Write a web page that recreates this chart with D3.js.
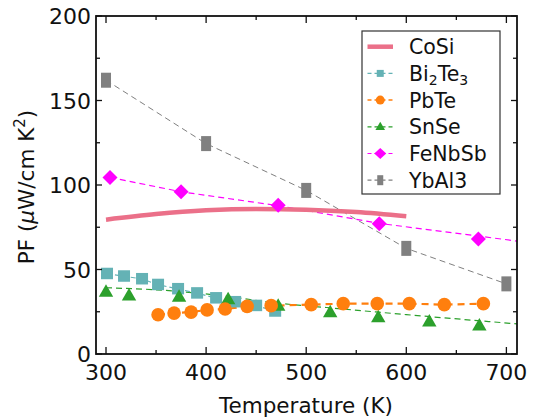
<!DOCTYPE html>
<html>
<head>
<meta charset="utf-8">
<script src="https://cdn.jsdelivr.net/npm/d3@7.9.0/dist/d3.min.js"></script>
<style>
  body { margin: 0; background: #fff; }
  svg text { font-family: "DejaVu Sans", sans-serif; fill: #111; }
</style>
</head>
<body>
<svg id="chart" width="535" height="417"></svg>
<script>
// values
const xTicks = [300, 400, 500, 600, 700];
const yTicks = [0, 50, 100, 150, 200];

const coSi = [[300, 79.5], [350, 82.8], [400, 85], [450, 85.8], [500, 85.4], [550, 84], [600, 81.5]];

const bi2Te3 = [[301, 47.5], [318, 46], [336, 44.4], [352, 41], [372, 38.5], [391, 36], [410, 33.1], [429, 30.8], [450, 28.6], [469, 25.3]];

const pbTe = [[352, 23.2], [368, 24.2], [385, 24.8], [401, 26.1], [419, 26.6], [441, 28.2], [465, 28.6], [505, 29.2], [537, 29.8], [571, 29.8], [603, 29.8], [638, 29.2], [677, 29.8]];

const snSe = [[300, 37], [323, 34.7], [373, 34], [422, 32.5], [472, 28.6], [524, 24.8], [572, 21.9], [623, 19.3], [673, 17]];
const snSeTrend = [[300, 39.2], [360, 37.6], [420, 34.2], [470, 30.2], [520, 27.5], [600, 23.3], [711, 17.8]];

const feNbSb = [[304, 104.5], [375, 96], [472, 88], [573, 77], [672, 68]];
const feNbSbTrend = [[304, 104.5], [375, 96], [474, 87.6], [573, 77.3], [711, 66.8]];

const ybAl3 = [[300, 162], [400, 124.5], [500, 96.8], [600, 62.5], [700, 41.5]];

const legendNames = ["CoSi", "Bi2Te3", "PbTe", "SnSe", "FeNbSb", "YbAl3"];

const svg = d3.select("#chart");
const margin = { left: 96, right: 18, top: 16, bottom: 63 };
const W = 535, H = 417;

const x = d3.scaleLinear().domain([290, 710.6]).range([margin.left, W - margin.right]);
const y = d3.scaleLinear().domain([0, 200]).range([H - margin.bottom, margin.top]);

svg.append("defs").append("clipPath").attr("id", "clip")
  .append("rect")
  .attr("x", x.range()[0]).attr("y", y.range()[1])
  .attr("width", x.range()[1] - x.range()[0])
  .attr("height", y.range()[0] - y.range()[1]);

const plot = svg.append("g").attr("clip-path", "url(#clip)");

const line = d3.line().x((d) => x(d[0])).y((d) => y(d[1]));

// dashed connectors / trend lines
plot.append("path").datum(ybAl3).attr("d", line)
  .attr("fill", "none").attr("stroke", "#808080").attr("stroke-width", 1).attr("stroke-dasharray", "6,4");
plot.append("path").datum(feNbSbTrend).attr("d", line)
  .attr("fill", "none").attr("stroke", "#ff00ff").attr("stroke-width", 1.2).attr("stroke-dasharray", "6,4");
plot.append("path").datum(snSeTrend).attr("d", line.curve(d3.curveMonotoneX))
  .attr("fill", "none").attr("stroke", "#2ca02c").attr("stroke-width", 1.2).attr("stroke-dasharray", "6,4");
line.curve(d3.curveLinear);
plot.append("path").datum(bi2Te3).attr("d", line)
  .attr("fill", "none").attr("stroke", "#64b2b5").attr("stroke-width", 1.2).attr("stroke-dasharray", "5,3");
plot.append("path").datum(pbTe).attr("d", line)
  .attr("fill", "none").attr("stroke", "#ff7f0e").attr("stroke-width", 2.2).attr("stroke-dasharray", "7,5");

// CoSi thick line
plot.append("path").datum(coSi).attr("d", d3.line().x((d) => x(d[0])).y((d) => y(d[1])).curve(d3.curveMonotoneX))
  .attr("fill", "none").attr("stroke", "#eb7089").attr("stroke-width", 4.5);

// markers
const sym = (type, size) => d3.symbol().type(type).size(size)();

plot.selectAll(".bi").data(bi2Te3).join("rect")
  .attr("x", (d) => x(d[0]) - 6).attr("y", (d) => y(d[1]) - 6)
  .attr("width", 12).attr("height", 11.5).attr("fill", "#64b2b5");

plot.selectAll(".sn").data(snSe).join("path")
  .attr("d", sym(d3.symbolTriangle, 90))
  .attr("transform", (d) => `translate(${x(d[0])},${y(d[1]) + 1})`)
  .attr("fill", "#2ca02c");

plot.selectAll(".pb").data(pbTe).join("circle")
  .attr("cx", (d) => x(d[0])).attr("cy", (d) => y(d[1]))
  .attr("r", 6.8).attr("fill", "#ff7f0e");

plot.selectAll(".fe").data(feNbSb).join("path")
  .attr("d", "M0,-7.5L7.5,0L0,7.5L-7.5,0Z")
  .attr("transform", (d) => `translate(${x(d[0])},${y(d[1])})`)
  .attr("fill", "#ff00ff");

plot.selectAll(".yb").data(ybAl3).join("rect")
  .attr("x", (d) => x(d[0]) - 5).attr("y", (d) => y(d[1]) - 7.5)
  .attr("width", 10).attr("height", 15).attr("fill", "#808080");

// frame & ticks
const x0 = x.range()[0], x1 = x.range()[1], y0 = y.range()[0], y1 = y.range()[1];
const frame = svg.append("g").attr("stroke", "#111").attr("stroke-width", 1.8);
frame.append("rect").attr("x", x0).attr("y", y1).attr("width", x1 - x0).attr("height", y0 - y1)
  .attr("fill", "none");

const xMinor = d3.range(350, 701, 100);
const yMinor = d3.range(25, 200, 50);
const tickG = svg.append("g").attr("stroke", "#111").attr("stroke-width", 1.3);
xTicks.forEach((t) => {
  tickG.append("line").attr("x1", x(t)).attr("x2", x(t)).attr("y1", y0).attr("y2", y0 - 7);
  tickG.append("line").attr("x1", x(t)).attr("x2", x(t)).attr("y1", y1).attr("y2", y1 + 7);
});
xMinor.forEach((t) => {
  tickG.append("line").attr("x1", x(t)).attr("x2", x(t)).attr("y1", y0).attr("y2", y0 - 4);
  tickG.append("line").attr("x1", x(t)).attr("x2", x(t)).attr("y1", y1).attr("y2", y1 + 4);
});
yTicks.forEach((t) => {
  tickG.append("line").attr("y1", y(t)).attr("y2", y(t)).attr("x1", x0).attr("x2", x0 + 6);
  tickG.append("line").attr("y1", y(t)).attr("y2", y(t)).attr("x1", x1).attr("x2", x1 - 6);
});
yMinor.forEach((t) => {
  tickG.append("line").attr("y1", y(t)).attr("y2", y(t)).attr("x1", x0).attr("x2", x0 + 4);
  tickG.append("line").attr("y1", y(t)).attr("y2", y(t)).attr("x1", x1).attr("x2", x1 - 4);
});

// tick labels
svg.selectAll(".xl").data(xTicks).join("text")
  .attr("x", (d) => x(d)).attr("y", 380)
  .attr("text-anchor", "middle").attr("font-size", 22).text((d) => d);
svg.selectAll(".yl").data(yTicks).join("text")
  .attr("x", x0 - 5).attr("y", (d) => y(d) + 8)
  .attr("text-anchor", "end").attr("font-size", 22).text((d) => d);

// axis titles
svg.append("text").attr("x", 306).attr("y", 413)
  .attr("text-anchor", "middle").attr("font-size", 21.5).text("Temperature (K)");

const yt = svg.append("text")
  .attr("transform", "translate(34,187) rotate(-90)")
  .attr("text-anchor", "middle").attr("font-size", 21.5);
yt.append("tspan").text("PF (");
yt.append("tspan").attr("font-style", "italic").text("μ");
yt.append("tspan").text("W/cm K");
yt.append("tspan").attr("font-size", 15).attr("dy", -9).text("2");
yt.append("tspan").attr("dy", 9).text(")");

// legend
const lg = svg.append("g");
lg.append("rect").attr("x", 362).attr("y", 31).attr("width", 138).attr("height", 163)
  .attr("fill", "#fff").attr("stroke", "#333").attr("stroke-width", 1.2);

const rowY = (i) => 46.7 + i * 26.7;
const lx0 = 367.5, lx1 = 393, lxm = (lx0 + lx1) / 2;

const legendStyles = [
  { color: "#eb7089", width: 4.5, dash: null },
  { color: "#64b2b5", width: 1.2, dash: "4,3" },
  { color: "#ff7f0e", width: 1.5, dash: "4,3" },
  { color: "#2ca02c", width: 1.2, dash: "4,3" },
  { color: "#ff00ff", width: 1.2, dash: "4,3" },
  { color: "#808080", width: 1.2, dash: "4,3" },
];

legendNames.forEach((name, i) => {
  const st = legendStyles[i];
  const ly = rowY(i);
  const l = lg.append("line").attr("x1", lx0).attr("x2", lx1).attr("y1", ly).attr("y2", ly)
    .attr("stroke", st.color).attr("stroke-width", st.width);
  if (st.dash) l.attr("stroke-dasharray", st.dash);
});

lg.append("rect").attr("x", lxm - 3.5).attr("y", rowY(1) - 3.5).attr("width", 7).attr("height", 7).attr("fill", "#64b2b5");
lg.append("circle").attr("cx", lxm).attr("cy", rowY(2)).attr("r", 4.5).attr("fill", "#ff7f0e");
lg.append("path").attr("d", sym(d3.symbolTriangle, 40)).attr("transform", `translate(${lxm},${rowY(3) + 0.5})`).attr("fill", "#2ca02c");
lg.append("path").attr("d", "M0,-5.5L6,0L0,5.5L-6,0Z").attr("transform", `translate(${lxm},${rowY(4)})`).attr("fill", "#ff00ff");
lg.append("rect").attr("x", lxm - 3).attr("y", rowY(5) - 5).attr("width", 6).attr("height", 10).attr("fill", "#808080");

legendNames.forEach((name, i) => {
  const t = lg.append("text").attr("x", 409).attr("y", rowY(i) + 7.5).attr("font-size", 20.5);
  if (name === "Bi2Te3") {
    t.append("tspan").text("Bi");
    t.append("tspan").attr("font-size", 14).attr("dy", 4).text("2");
    t.append("tspan").attr("dy", -4).text("Te");
    t.append("tspan").attr("font-size", 14).attr("dy", 4).text("3");
  } else {
    t.text(name);
  }
});
</script>
</body>
</html>
